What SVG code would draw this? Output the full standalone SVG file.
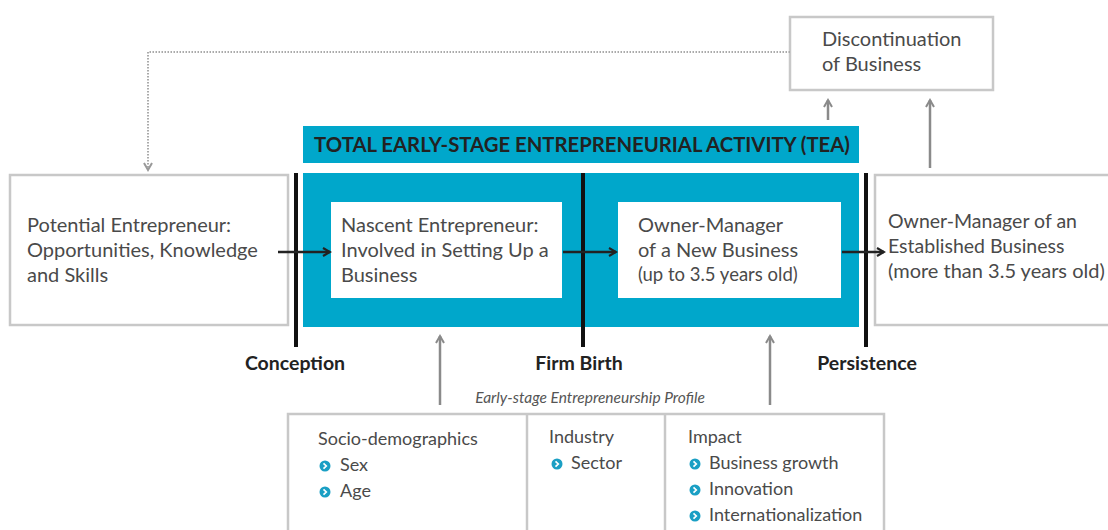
<svg xmlns="http://www.w3.org/2000/svg" width="1108" height="530" viewBox="0 0 1108 530">
<defs>
<style>
.box{fill:#fff;stroke:#c8c8c8;stroke-width:2.5}
.t{font-family:Lato,"Open Sans","Liberation Sans",sans-serif;font-size:20px;fill:#4a4a4a}
.s{font-size:18.5px}
.e{font-size:19.5px}
.p{font-size:18px}
.b{font-family:Lato,"Open Sans","Liberation Sans",sans-serif;font-weight:bold;font-size:19.5px;fill:#222}
.tt{font-size:20.3px}
.it{font-family:Lato,"Open Sans","Liberation Sans",sans-serif;font-style:italic;font-size:15.5px;fill:#555}
.bar{stroke:#111;stroke-width:4}
.ga{stroke:#8a8a8a;stroke-width:2.5;fill:none;marker-end:url(#ag)}
.ka{stroke:#222;stroke-width:2.5;fill:none;marker-end:url(#ak)}
</style>
<marker id="ag" viewBox="0 0 10 10" refX="8" refY="5" markerWidth="4" markerHeight="4" orient="auto"><path d="M1,1 L8,5 L1,9" fill="none" stroke="#8a8a8a" stroke-width="2"/></marker>
<marker id="ak" viewBox="0 0 10 10" refX="8" refY="5" markerWidth="4" markerHeight="4" orient="auto"><path d="M1,1 L8,5 L1,9" fill="none" stroke="#222" stroke-width="2.2"/></marker>
<marker id="ad" viewBox="0 0 10 10" refX="8" refY="5" markerWidth="5" markerHeight="5" orient="auto"><path d="M1,1 L8,5 L1,9" fill="none" stroke="#999" stroke-width="2"/></marker>
<g id="bullet"><circle r="5.5" fill="#1a9fc4"/><path d="M-1.5,-2.7 L1.3,0 L-1.5,2.7" fill="none" stroke="#fff" stroke-width="1.7"/></g>
</defs>
<rect width="1108" height="530" fill="#fff"/>

<g id="tea-title">
<rect x="303" y="126" width="556" height="37" fill="#00a7cb"/>
<text class="b tt" x="582" y="152" text-anchor="middle">TOTAL EARLY-STAGE ENTREPRENEURIAL ACTIVITY (TEA)</text>
</g>
<g id="tea-box"><rect x="303" y="173" width="556" height="154" fill="#00a7cb"/></g>

<g id="discontinuation">
<rect class="box" x="790" y="17" width="203" height="73"/>
<text class="t" x="822" y="46">Discontinuation</text>
<text class="t" x="822" y="71">of Business</text>
</g>

<g id="potential">
<rect class="box" x="10" y="175" width="278" height="150"/>
<text class="t" x="27" y="232">Potential Entrepreneur:</text>
<text class="t" x="27" y="257">Opportunities, Knowledge</text>
<text class="t" x="27" y="282">and Skills</text>
</g>

<g id="nascent">
<rect x="331" y="202" width="231" height="96" fill="#fff"/>
<text class="t" x="341" y="232">Nascent Entrepreneur:</text>
<text class="t" x="341" y="257">Involved in Setting Up a</text>
<text class="t" x="341" y="282">Business</text>
</g>

<g id="owner-new">
<rect x="618" y="202" width="223" height="96" fill="#fff"/>
<text class="t" x="638" y="232">Owner-Manager</text>
<text class="t" x="638" y="257">of a New Business</text>
<text class="t s" x="638" y="281">(up to 3.5 years old)</text>
</g>

<g id="established">
<rect class="box" x="875" y="175" width="245" height="150"/>
<text class="t e" x="888" y="228">Owner-Manager of an</text>
<text class="t e" x="888" y="253">Established Business</text>
<text class="t" x="888" y="278">(more than 3.5 years old)</text>
</g>

<g id="milestones">
<line class="bar" x1="296" y1="173" x2="296" y2="347"/>
<line class="bar" x1="583" y1="173" x2="583" y2="347"/>
<line class="bar" x1="866" y1="173" x2="866" y2="347"/>
<text class="b" x="295" y="370" text-anchor="middle">Conception</text>
<text class="b" x="579" y="370" text-anchor="middle">Firm Birth</text>
<text class="b" x="867" y="370" text-anchor="middle">Persistence</text>
</g>

<g id="profile">
<text class="it" x="590" y="403" text-anchor="middle">Early-stage Entrepreneurship Profile</text>
<rect class="box" x="288" y="414" width="596" height="130"/>
<line x1="527" y1="414" x2="527" y2="530" stroke="#c8c8c8" stroke-width="2.5"/>
<line x1="665" y1="414" x2="665" y2="530" stroke="#c8c8c8" stroke-width="2.5"/>
<text class="t p" x="318" y="445">Socio-demographics</text>
<use href="#bullet" x="325" y="466"/><text class="t p" x="340" y="471">Sex</text>
<use href="#bullet" x="325" y="492"/><text class="t p" x="340" y="497">Age</text>
<text class="t p" x="549" y="443">Industry</text>
<use href="#bullet" x="557" y="464"/><text class="t p" x="571" y="469">Sector</text>
<text class="t p" x="688" y="443">Impact</text>
<use href="#bullet" x="695" y="464"/><text class="t p" x="709" y="469">Business growth</text>
<use href="#bullet" x="695" y="490"/><text class="t p" x="709" y="495">Innovation</text>
<use href="#bullet" x="695" y="516"/><text class="t p" x="709" y="521">Internationalization</text>
</g>

<g id="connectors">
<path d="M790,52 H148 V170" fill="none" stroke="#aaa" stroke-width="2" stroke-dasharray="1.5 1.5" marker-end="url(#ad)"/>
<line class="ka" x1="278" y1="252" x2="330" y2="252"/>
<line class="ka" x1="563" y1="252" x2="616" y2="252"/>
<line class="ka" x1="842" y1="252" x2="884" y2="252"/>
<line class="ga" x1="440" y1="405" x2="440" y2="336"/>
<line class="ga" x1="770" y1="405" x2="770" y2="336"/>
<line class="ga" x1="828" y1="120" x2="828" y2="100"/>
<line class="ga" x1="930" y1="168" x2="930" y2="100"/>
</g>
</svg>
